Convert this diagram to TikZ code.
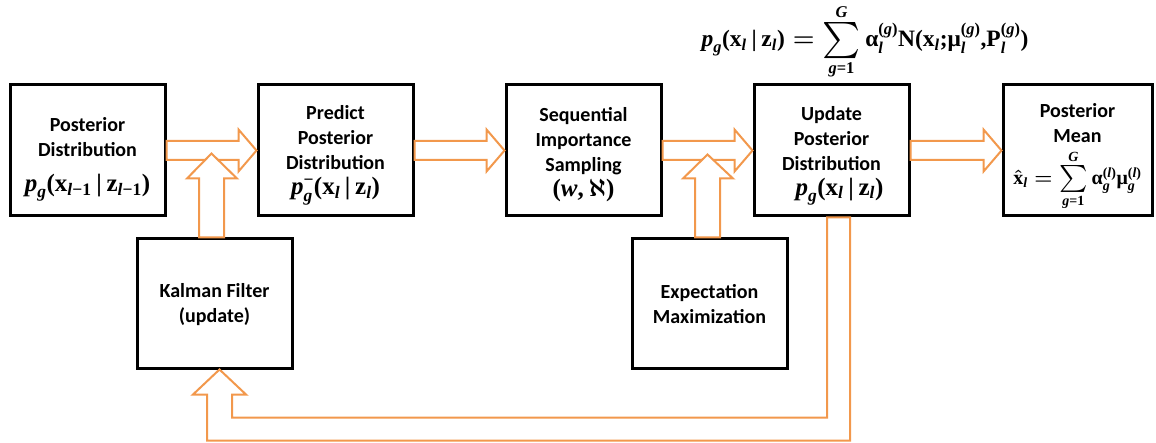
\documentclass[tikz,border=0pt]{standalone}
\usepackage{amsmath}
\usepackage{graphicx}
\usepackage[no-math]{fontspec}
\setmainfont{Carlito}
\newfontfamily\tnr{Liberation Serif}
\newcommand\mi[1]{\text{\tnr\bfseries\itshape #1}}
\newcommand\mb[1]{\text{\tnr\bfseries\upshape #1}}
\newcommand\bsum[1]{\mathop{\vcenter{\hbox{\scalebox{#1}{$\textstyle\sum$}}}}\limits}
\usetikzlibrary{calc}
\definecolor{arrorange}{RGB}{242,152,76}
\begin{document}
\begin{tikzpicture}[x=1pt,y=-1pt,
  box/.style={draw=black,line width=3pt,fill=white,minimum width=155pt,minimum height=131pt,inner sep=0pt},
  lbl/.style={align=center,inner sep=0pt,font=\fontsize{20}{25}\selectfont\bfseries\boldmath},
  barrow/.style={draw=arrorange,line width=2pt,fill=white,line join=miter},
  eqn/.style={inner sep=0pt,font=\fontsize{23.5}{25}\selectfont\bfseries\boldmath}]
\useasboundingbox (0,0) rectangle (1156,443);
% boxes
\node[box] (b1) at (87.5,150.5) {};
\node[box] (b2) at (335.5,150.5) {};
\node[box] (b3) at (583.5,150.5) {};
\node[box] (b4) at (831.5,150.5) {};
\node[box,minimum width=149pt] (b5) at (1077.5,150.5) {};
\node[box,minimum height=129pt] (kf) at (214.5,303.5) {};
\node[box,minimum height=129pt] (em) at (709.5,303.5) {};
% texts
\node[lbl] (b1t) at ($(b1)+(0,9)$) {Posterior\\Distribution\\[10pt]\fontsize{25}{25}\selectfont$\mi{p}_{\mi{g}}\mb{(}\mb{x}_{\mi{l}\mb{−1}}\,\mb{|}\,\mb{z}_{\mi{l}\mb{−1}}\mb{)}$};
\node[lbl] (b2t) at ($(b2)+(0,5)$) {Predict\\Posterior\\Distribution\\\fontsize{25}{25}\selectfont$\mi{p}^{\mb{−}}_{\mi{g}}\mb{(}\mb{x}_{\mi{l}}\,\mb{|}\,\mb{z}_{\mi{l}}\mb{)}$};
\node[lbl] (b3t) at ($(b3)+(0,4)$) {Sequential\\Importance\\Sampling\\\fontsize{25}{25}\selectfont$\mb{(}\mi{w}\mb{,}\,\aleph\mb{)}$};
\node[lbl] (b4t) at ($(b4)+(0,5)$) {Update\\Posterior\\Distribution\\\fontsize{25}{25}\selectfont\hspace*{16pt}$\mi{p}_{\mi{g}}\mb{(}\mb{x}_{\mi{l}}\,\mb{|}\,\mb{z}_{\mi{l}}\mb{)}$};
\node[lbl] (b5t) at ($(b5)+(0,-27)$) {Posterior\\Mean};
\node[eqn,font=\fontsize{20}{22}\selectfont\bfseries\boldmath] (b5m) at ($(b5)+(0,30)$) {$\hat{\mb{x}}_{\mi{l}}=\bsum{1.3}_{\mi{g}\mb{=1}}^{\mi{G}}\mb{α}_{\mi{g}}^{\mb{(}\mi{l}\mb{)}}\mb{μ}_{\mi{g}}^{\mb{(}\mi{l}\mb{)}}$};
\node[lbl] (kft) at ($(kf)+(0,1)$) {Kalman Filter\\(update)};
\node[lbl] (emt) at ($(em)+(0,1)$) {Expectation\\Maximization};
\node[eqn] (eq) at (865,42) {$\mi{p}_{\mi{g}}\mb{(}\mb{x}_{\mi{l}}\,\mb{|}\,\mb{z}_{\mi{l}}\mb{)}=\bsum{1.45}_{\mi{g}\mb{=1}}^{\mi{G}}\mb{α}_{\mi{l}}^{\mb{(}\mi{g}\mb{)}}\mb{N(}\mb{x}_{\mi{l}}\mb{;}\mb{μ}_{\mi{l}}^{\mb{(}\mi{g}\mb{)}}\mb{,}\mb{P}_{\mi{l}}^{\mb{(}\mi{g}\mb{)}}\mb{)}$};
% horizontal block arrows
\foreach \a/\b in {b1/b2,b2/b3,b3/b4,b4/b5}{
  \draw[barrow] ($(\a.east)+(0,-9.5)$) -- ($(\b.west)+(-18,-9.5)$) -- ($(\b.west)+(-18,-21)$)
    -- (\b.west) -- ($(\b.west)+(-18,21)$) -- ($(\b.west)+(-18,9.5)$) -- ($(\a.east)+(0,9.5)$) -- cycle;
}
% vertical arrow from Kalman filter
\draw[barrow] ($(kf.north)+(-15.5,0)$) -- ($(kf.north)+(-15.5,-59)$) -- ($(kf.north)+(-27.5,-59)$)
  -- ($(kf.north)+(-3,-84)$) -- ($(kf.north)+(22.5,-59)$) -- ($(kf.north)+(9.5,-59)$)
  -- ($(kf.north)+(9.5,0)$) -- cycle;
% vertical arrow from EM
\draw[barrow] ($(em.north)+(-14.5,0)$) -- ($(em.north)+(-14.5,-59)$) -- ($(em.north)+(-26.5,-59)$)
  -- ($(em.north)+(-2,-83)$) -- ($(em.north)+(23.5,-59)$) -- ($(em.north)+(10.5,-59)$)
  -- ($(em.north)+(10.5,0)$) -- cycle;
% feedback arrow
\draw[barrow] ($(b4.south)+(-4.5,0)$) -- ($(b4.south)+(-4.5,200)$) -- ($(kf.south)+(17.5,48)$)
  -- ($(kf.south)+(17.5,25)$) -- ($(kf.south)+(31.5,25)$) -- ($(kf.south)+(5,0)$)
  -- ($(kf.south)+(-21.5,25)$) -- ($(kf.south)+(-7.5,25)$) -- ($(kf.south)+(-7.5,71)$)
  -- ($(b4.south)+(18.5,223)$) -- ($(b4.south)+(18.5,0)$) -- cycle;
\end{tikzpicture}
\end{document}
